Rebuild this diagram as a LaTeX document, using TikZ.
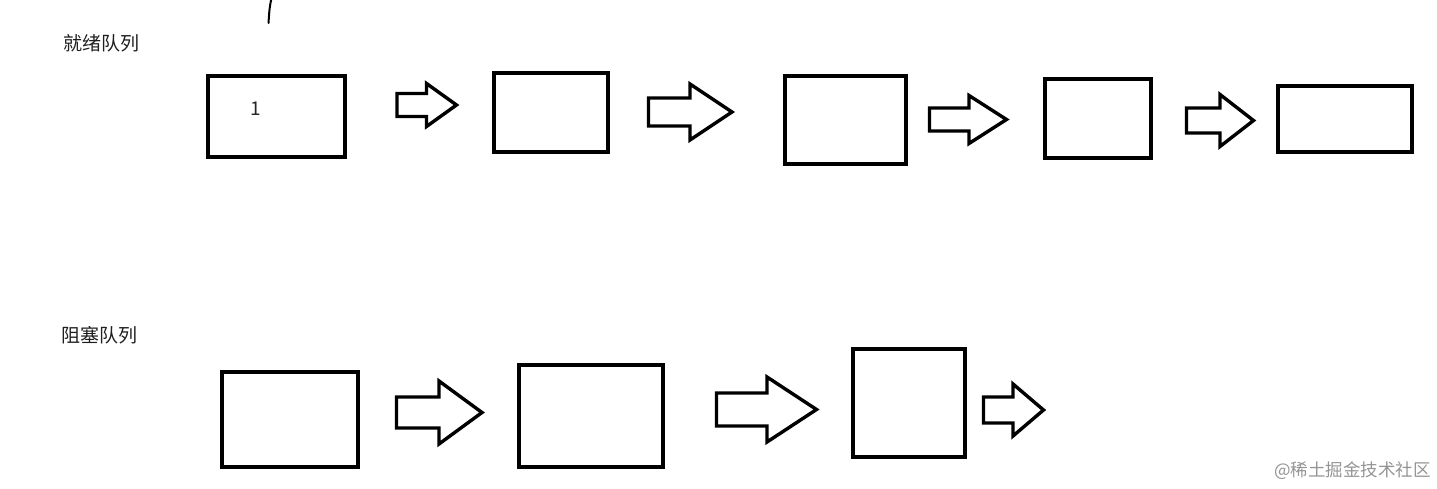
\documentclass[tikz,border=0pt]{standalone}
\usepackage{fontspec}
\setmainfont{Noto Sans CJK SC}
\newfontfamily\cjkfont{Noto Sans CJK SC}
\begin{document}
\begin{tikzpicture}[x=1pt,y=-1pt,
  box/.style={draw=black,line width=4pt,inner sep=0pt,rectangle},
  blockarr/.style={draw=black,line width=3.4pt,line join=miter,fill=white},
  lbl/.style={font=\cjkfont\fontsize{19}{19}\selectfont,text=black!88,inner sep=0pt,anchor=west},
  wm/.style={font=\cjkfont\fontsize{17.5}{17.5}\selectfont,text=black!42,inner sep=0pt,anchor=east}]
\useasboundingbox (0,0) rectangle (1437,489);
\newcommand{\barrow}[7]{%
  % #1 left x, #2 head base x, #3 tip x, #4 centre y, #5 shaft half, #6 head half, #7 name
  \coordinate (#7) at (#3,#4);
  \draw[blockarr] (#1,#4-#5) -- (#2,#4-#5) -- (#2,#4-#6) -- (#3,#4) -- (#2,#4+#6) -- (#2,#4+#5) -- (#1,#4+#5) -- cycle;}
% labels
\node[lbl] (lready) at (63,43) {就绪队列};
\node[lbl] (lblock) at (61,335) {阻塞队列};
% stray pen stroke
\draw[line width=2pt,line cap=round] (271.5,-2) .. controls (269.5,8) .. (268.5,23);
% ready queue
\node[box,minimum width=137pt,minimum height=81pt] (r1) at (276,116.5) {};
\node[font=\cjkfont\fontsize{19}{19}\selectfont,text=black!85,inner sep=0pt] (n1) at (256,109) {1};
\barrow{397}{426.5}{456.5}{105}{11.5}{21.5}{a1}
\node[box,minimum width=114pt,minimum height=79pt] (r2) at (551,112.5) {};
\barrow{648.5}{690}{732}{112}{14}{28}{a2}
\node[box,minimum width=121pt,minimum height=88pt] (r3) at (845.5,120) {};
\barrow{929.5}{969}{1006.5}{119.5}{11.5}{24}{a3}
\node[box,minimum width=106pt,minimum height=79pt] (r4) at (1098,118.5) {};
\barrow{1186.5}{1220}{1253.5}{120.5}{12.5}{26}{a4}
\node[box,minimum width=134pt,minimum height=66pt] (r5) at (1345,119) {};
% blocked queue
\node[box,minimum width=136pt,minimum height=95pt] (b1) at (289.5,419.5) {};
\barrow{396.5}{439}{482}{412.5}{15.5}{31.5}{c1}
\node[box,minimum width=144pt,minimum height=102pt] (b2) at (591,416) {};
\barrow{716.5}{767}{816.5}{409.5}{16.5}{32.5}{c2}
\node[box,minimum width=112pt,minimum height=108pt] (b3) at (909,403) {};
\barrow{983.5}{1013}{1043.5}{410}{13}{26}{c3}
% watermark
\node[wm] (wmk) at (1431,471) {@稀土掘金技术社区};
\end{tikzpicture}
\end{document}
